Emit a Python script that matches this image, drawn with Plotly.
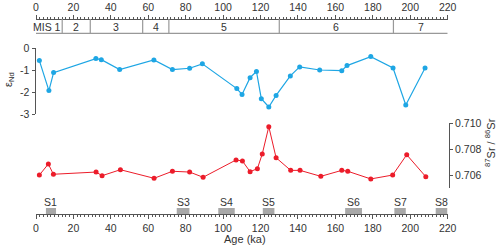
import plotly.graph_objects as go

# ---- data ----
age_nd = [1.8, 6.9, 9.4, 32.0, 34.9, 44.7, 63.0, 72.9, 82.1, 88.9, 107.3, 110.1, 114.4,
          117.8, 120.4, 124.4, 128.3, 135.9, 140.9, 151.6, 163.4, 166.2, 178.9, 190.8, 197.6, 207.9]
eps_nd = [-0.56, -1.93, -1.11, -0.47, -0.52, -0.97, -0.53, -0.97, -0.91, -0.71, -1.84, -2.11, -1.34,
          -1.06, -2.30, -2.68, -2.15, -1.26, -0.85, -0.99, -1.02, -0.79, -0.38, -0.90, -2.59, -0.90]

age_sr = [1.8, 6.6, 9.3, 32.1, 35.3, 45.1, 63.1, 72.9, 82.1, 89.3, 106.9, 110.3, 114.4,
          118.3, 120.9, 124.4, 128.3, 136.1, 141.1, 152.2, 163.4, 166.6, 178.9, 190.6, 198.1, 208.3]
sr_ratio = [0.70602, 0.70687, 0.70608, 0.70625, 0.70597, 0.70643, 0.70577, 0.70631, 0.70625, 0.70585,
            0.70718, 0.70710, 0.70628, 0.70651, 0.70764, 0.70974, 0.70735, 0.70638, 0.70638, 0.70592,
            0.70638, 0.70631, 0.70572, 0.70602, 0.70758, 0.70589]

mis_bounds = [0, 14, 29, 57, 71, 130, 191, 220]
mis_labels = ["MIS 1", "2", "3", "4", "5", "6", "7"]

s_labels = ["S1", "S3", "S4", "S5", "S6", "S7", "S8"]
s_start = [5.3, 75.2, 97.4, 121.2, 165.2, 191.5, 213.6]
s_end = [10.7, 82.0, 106.2, 127.4, 174.2, 197.6, 219.8]

age_ticks = list(range(0, 221, 20))
nd_ticks = [0, -1, -2, -3]
nd_ticktext = ["0", "-1", "-2", "-3"]
sr_ticks = [0.706, 0.708, 0.710]
sr_ticktext = ["0.706", "0.708", "0.710"]

# ---- style ----
BLUE = "#1ea6e4"
RED = "#ec1c2a"
AX = "#555555"
TXT = "#333333"
FONT = "Liberation Sans, Arial, sans-serif"
FS = 10.5
W, H = 500, 249

def py(pix):
    return 1 - pix / H

x0, x1 = 36 / W, 447.7 / W

fig = go.Figure()
fig.add_trace(go.Scatter(x=age_nd, y=eps_nd, mode="lines+markers", xaxis="x", yaxis="y",
                         line=dict(color=BLUE, width=1.2), marker=dict(color=BLUE, size=5),
                         cliponaxis=False, showlegend=False))
fig.add_trace(go.Scatter(x=age_sr, y=sr_ratio, mode="lines+markers", xaxis="x", yaxis="y2",
                         line=dict(color=RED, width=1.0), marker=dict(color=RED, size=5),
                         cliponaxis=False, showlegend=False))
fig.add_trace(go.Scatter(x=[None], y=[None], xaxis="x2", yaxis="y", showlegend=False,
                         hoverinfo="skip"))

common_x = dict(range=[0, 220], domain=[x0, x1], tickvals=age_ticks, showline=True,
                linecolor=AX, linewidth=1, ticks="outside", ticklen=4, tickcolor=AX,
                showgrid=False, zeroline=False, anchor="free", automargin=False,
                tickfont=dict(family=FONT, size=FS, color=TXT),
                minor=dict(dtick=2, ticks="outside", ticklen=2, tickcolor=AX, showgrid=False))

fig.update_layout(
    width=W, height=H, margin=dict(l=0, r=0, t=0, b=0, autoexpand=False),
    paper_bgcolor="white", plot_bgcolor="rgba(0,0,0,0)",
    font=dict(family=FONT, size=FS, color=TXT),
    xaxis=dict(common_x, position=py(214.3), side="bottom"),
    xaxis2=dict(common_x, position=py(19), side="top", ticklen=4),
    yaxis=dict(range=[-3, 0], domain=[py(114), py(48.3)], anchor="free", position=34.5 / W,
               side="left", tickvals=nd_ticks, ticktext=nd_ticktext, showline=True,
               linecolor=AX, ticks="outside", ticklen=3, tickcolor=AX, showgrid=False,
               zeroline=False, automargin=False, tickfont=dict(family=FONT, size=FS, color=TXT)),
    yaxis2=dict(range=[0.705, 0.710], domain=[py(188.3), py(123.3)], anchor="free",
                position=449 / W, side="right", tickvals=sr_ticks, ticktext=sr_ticktext,
                showline=True, linecolor=AX, ticks="outside", ticklen=3, tickcolor=AX,
                showgrid=False, zeroline=False, automargin=False,
                tickfont=dict(family=FONT, size=FS, color=TXT)),
)

shapes = []
annotations = []
# MIS band
band_top, band_bot = py(19), py(33.3)
shapes.append(dict(type="line", xref="x", yref="paper", x0=mis_bounds[0], x1=mis_bounds[-1],
                   y0=band_bot, y1=band_bot, line=dict(color="#999999", width=1.2)))
for b in mis_bounds[1:-1]:
    shapes.append(dict(type="line", xref="x", yref="paper", x0=b, x1=b, y0=band_bot, y1=band_top,
                       line=dict(color="#999999", width=1.2)))
for i, lab in enumerate(mis_labels):
    cx = (mis_bounds[i] + mis_bounds[i + 1]) / 2
    if i == 0:
        cx = 6
    annotations.append(dict(text=lab, xref="x", yref="paper", x=cx, y=py(27), showarrow=False,
                            font=dict(family=FONT, size=FS, color=TXT), xanchor="center",
                            yanchor="middle"))
# S bars
for lab, s0, s1 in zip(s_labels, s_start, s_end):
    shapes.append(dict(type="rect", xref="x", yref="paper", x0=s0, x1=s1, y0=py(214), y1=py(208),
                       fillcolor="#a8a8a8", line=dict(width=0)))
    annotations.append(dict(text=lab, xref="x", yref="paper", x=(s0 + s1) / 2, y=py(202),
                            showarrow=False, font=dict(family=FONT, size=FS, color=TXT),
                            xanchor="center", yanchor="middle"))
# titles
annotations.append(dict(text="Age (ka)", xref="paper", yref="paper", x=245 / W, y=py(239),
                        showarrow=False, font=dict(family=FONT, size=FS + 0.5, color=TXT),
                        xanchor="center", yanchor="middle"))
annotations.append(dict(text="ε<sub>Nd</sub>", xref="paper", yref="paper", x=9 / W, y=py(80),
                        showarrow=False, textangle=-90, font=dict(family=FONT, size=FS + 0.5, color=TXT),
                        xanchor="center", yanchor="middle"))
annotations.append(dict(text="<sup>87</sup>Sr / <sup>86</sup>Sr", xref="paper", yref="paper",
                        x=490 / W, y=py(143), showarrow=False, textangle=-90,
                        font=dict(family=FONT, size=FS + 0.5, color=TXT),
                        xanchor="center", yanchor="middle"))

fig.update_layout(shapes=shapes, annotations=annotations)
fig.write_html("out.html", config={"displayModeBar": False},
               post_script="document.body.style.margin='0px';document.body.style.overflow='hidden';")
